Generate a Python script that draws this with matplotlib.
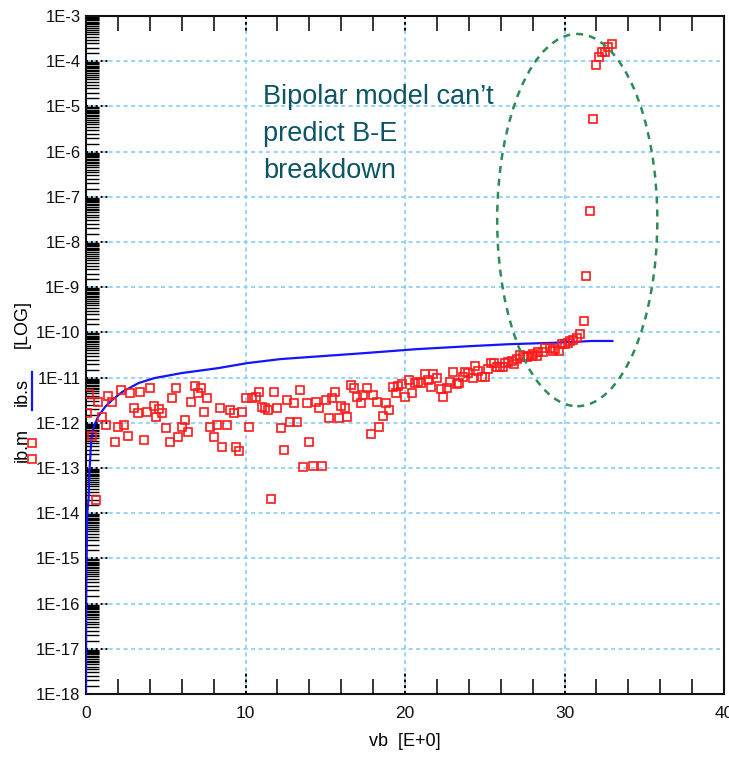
import numpy as np
import matplotlib
matplotlib.use("Agg")
import matplotlib.pyplot as plt
from matplotlib import transforms
from matplotlib.lines import Line2D
from matplotlib.patches import Ellipse
from matplotlib.ticker import MultipleLocator, LogLocator, FuncFormatter, NullFormatter

plt.rcParams["font.family"] = ["Liberation Sans", "DejaVu Sans"]

# simulated base current ib.s (log10 of A) vs vb
vb_s = [0.0, 0.01, 0.04, 0.08, 0.17, 0.21, 0.33, 0.48, 0.75, 1.19, 1.63, 2.26, 3.3,
        4.3, 6.0, 8.3, 10.1, 12.2, 14.2, 17.4, 20.75, 24.3, 26.6, 29.3, 31.7, 33.0]
ib_s_log = [-18, -16, -15, -14, -13.64, -13.11, -12.38, -12.09, -11.87, -11.65, -11.5,
            -11.32, -11.12, -11.01, -10.9, -10.79, -10.68, -10.59, -10.54, -10.46,
            -10.37, -10.30, -10.26, -10.23, -10.19, -10.19]

# measured base current ib.m (log10 of A) vs vb
vb_m = [0.06, 0.19, 0.38, 0.63, 0.75, 1.00, 1.25, 1.38, 1.63, 1.82,
        2.01, 2.19, 2.38, 2.63, 2.76, 3.01, 3.26, 3.39, 3.64, 3.82,
        4.01, 4.26, 4.39, 4.58, 4.76, 5.02, 5.27, 5.39, 5.64, 5.77,
        6.02, 6.21, 6.39, 6.58, 6.83, 7.02, 7.21, 7.40, 7.59, 7.77,
        8.03, 8.21, 8.40, 8.53, 8.84, 9.03, 9.28, 9.40, 9.59, 9.78,
        10.03, 10.22, 10.41, 10.66, 10.85, 11.03, 11.22, 11.41, 11.60, 11.79,
        11.97, 12.23, 12.41, 12.60, 12.79, 13.04, 13.23, 13.42, 13.61, 13.86,
        13.98, 14.23, 14.42, 14.61, 14.80, 15.05, 15.23, 15.42, 15.61, 15.86,
        15.99, 16.24, 16.36, 16.61, 16.80, 16.99, 17.24, 17.37, 17.62, 17.87,
        17.99, 18.24, 18.37, 18.62, 18.81, 19.00, 19.25, 19.44, 19.56, 19.81,
        20.00, 20.25, 20.44, 20.63, 20.82, 21.00, 21.25, 21.44, 21.63, 21.76,
        22.01, 22.26, 22.38, 22.63, 22.82, 23.01, 23.26, 23.39, 23.64, 23.76,
        23.95, 24.26, 24.39, 24.58, 24.83, 25.02, 25.20, 25.39, 25.58, 25.77,
        25.96, 26.14, 26.27, 26.46, 26.71, 26.83, 27.02, 27.21, 27.40, 27.65,
        27.71, 27.96, 28.03, 28.28, 28.34, 28.65, 28.78, 29.09, 29.28, 29.40,
        29.66, 29.84, 30.03, 30.22, 30.34, 30.53, 30.78, 30.97, 31.22, 31.35,
        31.60, 31.79, 31.97, 32.16, 32.35, 32.54, 32.73, 32.98]
ib_m_log = [-11.78, -11.36, -12.29, -13.71, -11.54, -11.87, -12.05, -11.41, -11.54, -12.42,
            -12.09, -11.27, -12.05, -12.29, -11.34, -11.67, -11.78, -11.32, -12.38, -11.76,
            -11.23, -11.63, -11.87, -11.69, -11.78, -12.11, -12.42, -11.45, -11.23, -12.31,
            -12.09, -11.94, -12.20, -11.54, -11.19, -11.34, -11.23, -11.76, -11.45, -12.09,
            -12.31, -12.05, -11.67, -12.54, -12.05, -11.72, -11.78, -12.54, -12.62, -11.76,
            -11.45, -12.09, -11.45, -11.43, -11.32, -11.65, -11.67, -11.72, -13.69, -11.32,
            -11.67, -12.11, -12.60, -11.50, -11.98, -11.56, -11.98, -11.27, -12.98, -11.56,
            -12.42, -12.96, -11.54, -11.67, -12.96, -11.50, -11.89, -11.45, -11.32, -11.89,
            -11.63, -11.67, -11.87, -11.16, -11.23, -11.43, -11.56, -11.39, -11.23, -12.25,
            -11.39, -11.54, -12.09, -11.85, -11.56, -11.72, -11.21, -11.34, -11.19, -11.14,
            -11.43, -11.05, -11.34, -11.12, -11.10, -11.12, -10.92, -11.05, -11.21, -10.92,
            -11.01, -11.25, -11.43, -11.23, -11.10, -10.88, -11.14, -11.12, -10.99, -10.88,
            -10.90, -11.01, -10.74, -10.85, -10.99, -10.99, -10.81, -10.68, -10.68, -10.77,
            -10.77, -10.77, -10.68, -10.65, -10.63, -10.70, -10.59, -10.50, -10.54, -10.54,
            -10.52, -10.52, -10.48, -10.52, -10.43, -10.43, -10.35, -10.35, -10.41, -10.37,
            -10.41, -10.26, -10.26, -10.23, -10.19, -10.17, -10.12, -10.04, -9.75, -8.75,
            -7.31, -5.28, -4.08, -3.91, -3.80, -3.80, -3.69, -3.62]

RED = "#ff1a1a"
BLUE = "#1414ff"
GRID = "#87cefa"

W, H = 729, 758
fig = plt.figure(figsize=(W / 100, H / 100), dpi=100)
ax = fig.add_axes([86 / W, 1 - 694 / H, 638 / W, 678 / H])

ax.set_xlim(0, 40)
ax.set_yscale("log")
ax.set_ylim(1e-18, 1e-3)

ax.xaxis.set_major_locator(MultipleLocator(10))
ax.xaxis.set_minor_locator(MultipleLocator(2))
ax.yaxis.set_major_locator(LogLocator(base=10, numticks=30))
ax.yaxis.set_minor_locator(LogLocator(base=10, subs=np.arange(1.5, 10, 0.5), numticks=400))
ax.yaxis.set_major_formatter(FuncFormatter(lambda v, p: f"1E{int(round(np.log10(v)))}"))
ax.yaxis.set_minor_formatter(NullFormatter())

ax.grid(True, which="major", color=GRID, linestyle=(0, (2.5, 2)), linewidth=1.2)
ax.set_axisbelow(True)

ax.tick_params(axis="both", which="major", length=0, labelsize=12, colors="#111111")
ax.tick_params(axis="y", which="major", pad=4)
ax.tick_params(axis="x", which="major", pad=9, labelsize=12.5)
ax.tick_params(axis="x", which="minor", direction="in", length=11, width=1.1,
               top=True, bottom=True)
ax.tick_params(axis="y", which="minor", direction="in", length=9.5, width=1.0,
               left=True, right=False)

for s in ax.spines.values():
    s.set_linewidth(1.5)
    s.set_color("#111111")

# dotted black major tick marks
ty = transforms.blended_transform_factory(ax.transAxes, ax.transData)
for k in range(-18, -2):
    ax.plot([0, 0.038], [10.0 ** k] * 2, color="k", lw=1.4, ls=(0, (1, 1.5)),
            transform=ty, clip_on=False, zorder=2.5)
tx = transforms.blended_transform_factory(ax.transData, ax.transAxes)
for v in (10, 20, 30):
    ax.plot([v, v], [0, 0.034], color="k", lw=1.4, ls=(0, (1.5, 1.5)),
            transform=tx, clip_on=False, zorder=2.5)
    ax.plot([v, v], [1, 0.976], color="k", lw=1.4, ls=(0, (1.5, 1.5)),
            transform=tx, clip_on=False, zorder=2.5)

ax.plot(vb_s, 10.0 ** np.array(ib_s_log), color=BLUE, lw=1.6, zorder=3)
ax.plot(vb_m, 10.0 ** np.array(ib_m_log), ls="none", marker="s", ms=6.3,
        mfc="none", mec=RED, mew=1.2, zorder=4)

ax.add_patch(Ellipse((0.770, 0.699), 0.251, 0.549, transform=ax.transAxes,
                     fill=False, ec="#2e8b57", lw=1.8, ls=(0, (2.8, 2.4)), zorder=5))

fig.text(263 / W, 1 - 84 / H, "Bipolar model can\u2019t\npredict B-E\nbreakdown",
         fontsize=19.5, color="#0b5466", ha="left", va="top", linespacing=1.55)

# y label with legend marks
fig.text(22 / W, 1 - 445 / H, "ib.m", rotation=90, ha="center", va="center", fontsize=13)
fig.text(22 / W, 1 - 392 / H, "ib.s", rotation=90, ha="center", va="center", fontsize=13)
fig.text(22 / W, 1 - 324 / H, "[LOG]", rotation=90, ha="center", va="center", fontsize=13)
for yp in (443, 459):
    fig.add_artist(Line2D([32 / W], [1 - yp / H], marker="s", ms=6.3, mfc="none",
                          mec=RED, mew=1.2, ls="none"))
fig.add_artist(Line2D([32 / W, 32 / W], [1 - 372 / H, 1 - 410 / H], color=BLUE, lw=1.6))

fig.text(405 / W, 1 - 742 / H, "vb  [E+0]", ha="center", va="center", fontsize=13)

fig.savefig("out.png", dpi=100)
